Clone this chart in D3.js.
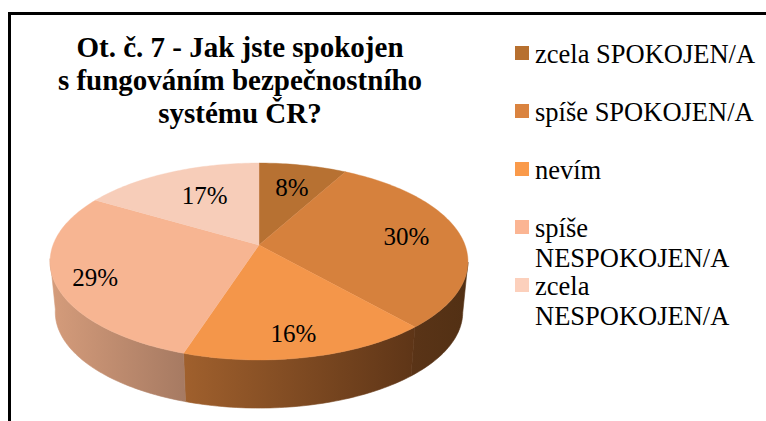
<!DOCTYPE html>
<html><head><meta charset="utf-8">
<script src="https://cdn.jsdelivr.net/npm/d3@7/dist/d3.min.js"></script>
<style>html,body{margin:0;padding:0;background:#fff}svg{display:block}text{font-family:"Liberation Serif",serif;fill:#000}</style>
</head><body><svg id="c" width="766" height="421"></svg>
<script>
const titleLines = ["Ot. č. 7 - Jak jste spokojen", "s fungováním bezpečnostního", "systému ČR?"];
const categories = ["zcela SPOKOJEN/A", "spíše SPOKOJEN/A", "nevím", "spíše NESPOKOJEN/A", "zcela NESPOKOJEN/A"];
const legendLines = [["zcela SPOKOJEN/A"], ["spíše SPOKOJEN/A"], ["nevím"], ["spíše", "NESPOKOJEN/A"], ["zcela", "NESPOKOJEN/A"]];
const values = [8.0, 30.49, 16.49, 28.5, 16.52];
const topColors = ["#b77132", "#d6813d", "#f4964a", "#f7b592", "#f7cdb9"];
const legendColors = ["#b7702f", "#da833f", "#fa9a4a", "#fbb593", "#fcd0bc"];
const sideStart = ["#6b3f1c", "#5a3417", "#a0602d", "#d59c7b", "#d59c7b"];
const sideEnd = ["#6b3f1c", "#523014", "#5e3517", "#a67a62", "#d59c7b"];
const labelRadius = [0.69, 0.73, 0.82, 0.82, 0.63];
const labelShift = [0.5, 0, 1.6, -2.9, 2.5];

const svg = d3.select("#c");
const cx = 259, cy = 245, A = 206, B = 95.7, K = 0.1675, depth = 51, shrink = 0.975;
const color = d3.scaleOrdinal(categories, topColors);
const legendColor = d3.scaleOrdinal(categories, legendColors);
const arcs = d3.pie().sort(null).value(d => d)(values);

// perspective projection of a point on the pie disc
function project(a, r, bottom) {
  const u = r * Math.sin(a), v = r * Math.cos(a), w = 1 + K * v, s = bottom ? shrink : 1;
  return [cx + s * A * u / w, cy + (bottom ? depth : 0) - s * B * v / w];
}
const samples = (a0, a1) => { const n = Math.max(2, Math.ceil((a1 - a0) / 0.02)); return d3.range(n + 1).map(i => a0 + (a1 - a0) * i / n); };
const line = d3.line().curve(d3.curveLinear);
const rad = d => d * Math.PI / 180;

// frame
svg.append("path").attr("d", "M9.5,421V13.5H766").attr("fill", "none").attr("stroke", "#000").attr("stroke-width", 3);

// sides
const defs = svg.append("defs");
const visA = rad(100), visB = rad(262);
arcs.forEach((d, i) => {
  const a0 = Math.max(d.startAngle, visA), a1 = Math.min(d.endAngle, visB);
  if (a1 <= a0) return;
  const as = samples(a0, a1);
  const pts = as.map(a => project(a, 1, false)).concat(as.slice().reverse().map(a => project(a, 1, true)));
  const x = d3.extent(pts, p => p[0]);
  const g = defs.append("linearGradient").attr("id", "s" + i).attr("gradientUnits", "userSpaceOnUse")
    .attr("x1", x[0]).attr("x2", x[1]).attr("y1", 0).attr("y2", 0);
  g.append("stop").attr("offset", 0).attr("stop-color", sideStart[i]);
  g.append("stop").attr("offset", 1).attr("stop-color", sideEnd[i]);
  svg.append("path").attr("d", line(pts) + "Z").attr("fill", `url(#s${i})`).attr("stroke", `url(#s${i})`).attr("stroke-width", 0.6);
});

// top faces
arcs.forEach((d, i) => {
  const pts = [project(0, 0, false)].concat(samples(d.startAngle, d.endAngle).map(a => project(a, 1, false)));
  svg.append("path").attr("d", line(pts) + "Z").attr("fill", color(categories[i])).attr("stroke", color(categories[i])).attr("stroke-width", 0.4);
});

// value labels
arcs.forEach((d, i) => {
  const a = (d.startAngle + d.endAngle) / 2 + rad(labelShift[i]);
  const p = project(a, labelRadius[i], false);
  svg.append("text").attr("x", p[0]).attr("y", p[1] + 8).attr("text-anchor", "middle")
    .attr("font-size", 25).text(Math.round(d.value) + "%");
});

// title
const titleY = d3.scalePoint().domain(titleLines).range([57, 123]);
svg.selectAll(".t").data(titleLines).join("text").attr("class", "t")
  .attr("x", 240).attr("y", d => titleY(d)).attr("text-anchor", "middle")
  .attr("font-size", 29).attr("font-weight", "bold").text(d => d);

// legend
const legendY = d3.scalePoint().domain(categories).range([46, 278]);
categories.forEach((c, i) => {
  const y = legendY(c);
  svg.append("rect").attr("x", 515).attr("y", y).attr("width", 14).attr("height", 14).attr("fill", legendColor(c));
  legendLines[i].forEach((t, j) => {
    svg.append("text").attr("x", 535).attr("y", y + 17 + j * 30).attr("font-size", 26.5).text(t);
  });
});
</script></body></html>
